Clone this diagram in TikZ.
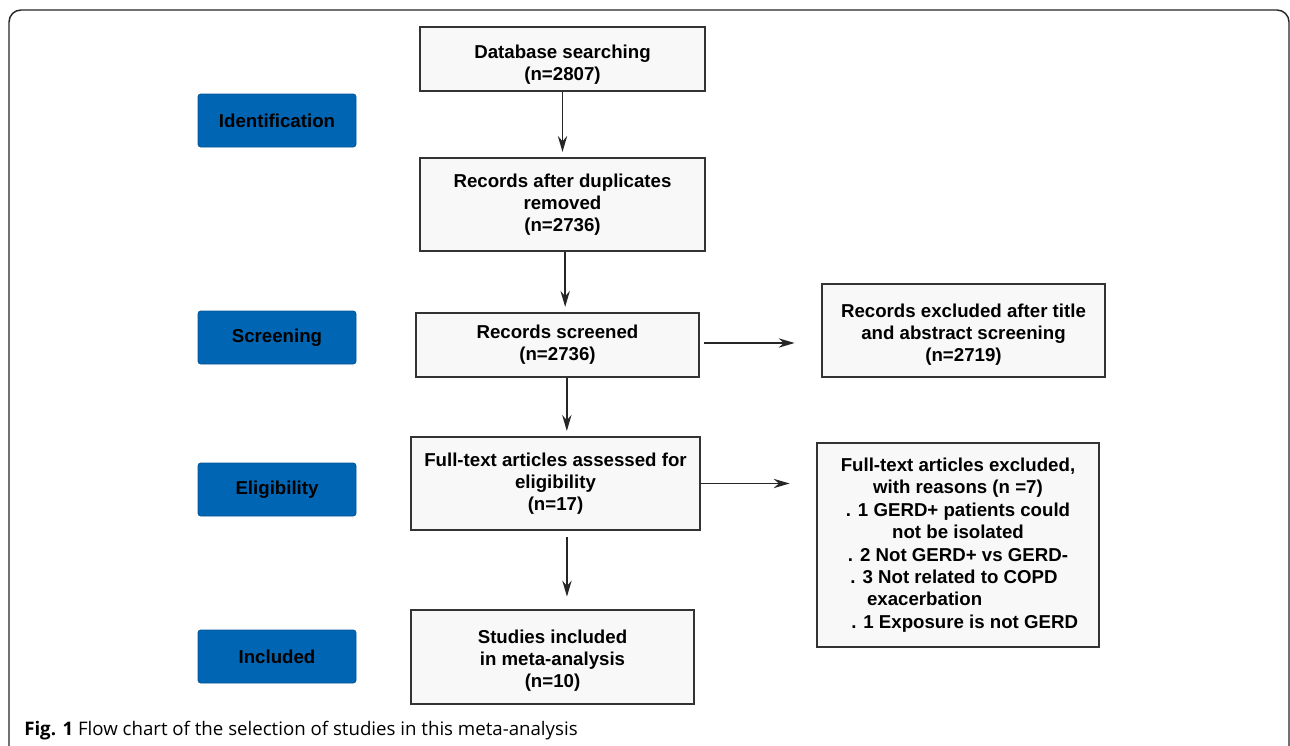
\documentclass[tikz,border=0pt]{standalone}
\usepackage{fontspec}
\setmainfont{Liberation Sans}
\newfontfamily\capfont{Open Sans}
\usetikzlibrary{arrows.meta}
\definecolor{stageblue}{HTML}{0065B2}
\definecolor{boxline}{HTML}{333333}
\definecolor{boxfill}{HTML}{F8F8F8}
\begin{document}
\begin{tikzpicture}[x=0.75pt,y=-0.75pt,
  flow/.style={draw=boxline, fill=boxfill, line width=1.1pt, align=center,
    font=\bfseries\fontsize{14pt}{16.5pt}\selectfont, inner sep=0pt},
  stage/.style={fill=stageblue, draw=stageblue!85!black, line width=0.5pt,
    rounded corners=2pt, minimum width=118.5pt, minimum height=39.75pt,
    font=\bfseries\fontsize{14pt}{16.5pt}\selectfont, inner sep=0pt},
  arr/.style={draw=black!85, line width=1.1pt,
    -{Stealth[length=12pt,width=7pt,inset=4pt]}}]
\useasboundingbox (0,0) rectangle (1290,746);
\clip (0,0) rectangle (1290,746);
\fill[white] (0,0) rectangle (1290,746);
\draw[line width=1.1pt, draw=black!85, rounded corners=9pt]
  (9,780) -- (9,10) -- (1289,10) -- (1289,780);

% stage labels
\node[stage] (ident) at (277,120.5) {Identification};
\node[stage] (screen) at (277,337.5) {Screening};
\node[stage] (elig) at (277,489.5) {Eligibility};
\node[stage] (inclstage) at (277,656.5) {Included};

% flow boxes
\node[flow, minimum width=213.75pt, minimum height=48pt] (db) at (562.5,59)
  {\rule{0pt}{18.5pt}Database searching\\(n=2807)};
\node[flow, minimum width=213.75pt, minimum height=69.75pt] (dup) at (562.5,204.5)
  {Records after duplicates\\removed\\(n=2736)};
\node[flow, minimum width=212.25pt, minimum height=48pt] (scr) at (557.5,345)
  {Records screened\\(n=2736)};
\node[flow, minimum width=212.25pt, minimum height=69.75pt] (excla) at (963.5,330.5)
  {\rule{0pt}{16pt}Records excluded after title\\and abstract screening\\(n=2719)};
\node[flow, minimum width=216.75pt, minimum height=69.75pt] (full) at (555.5,483.5)
  {Full-text articles assessed for\\eligibility\\(n=17)};
\node[flow, minimum width=211.5pt, minimum height=153pt,
  font=\bfseries\fontsize{14pt}{16.8pt}\selectfont] (exclb) at (958,545)
  {Full-text articles excluded,\\with reasons (n =7)\\. 1 GERD+ patients could\\not be isolated\\. 2 Not GERD+ vs GERD-\\. 3 Not related to COPD\rule{6pt}{0pt}\\exacerbation\rule{50pt}{0pt}\\\rule{10pt}{0pt}. 1 Exposure is not GERD};
\node[flow, minimum width=212.25pt, minimum height=70.5pt] (incl) at (552.5,657)
  {\rule{0pt}{16pt}Studies included\\in meta-analysis\\(n=10)};

% connectors
\draw[arr, shorten >=4pt] (db.south) -- (db.south |- dup.north);
\draw[arr, shorten >=4pt] ([xshift=2pt]dup.south) -- ([xshift=2pt]dup.south |- scr.north);
\draw[arr, shorten >=4pt] ([xshift=7pt]scr.south) -- ([xshift=7pt]scr.south |- full.north);
\draw[arr, shorten <=5pt, shorten >=9.5pt] ([xshift=8.6pt]full.south) -- ([xshift=8.6pt]full.south |- incl.north);
\draw[arr, shorten <=3pt, shorten >=20pt] ([yshift=1.5pt]scr.east) -- ([yshift=1.5pt]scr.east -| excla.west);
\draw[arr, shorten >=20pt] (full.east) -- (full.east -| exclb.west);

% caption
\node[anchor=base west, inner sep=0pt, font=\capfont\fontsize{14pt}{16pt}\selectfont] (cap) at (24,735)
  {\textbf{Fig. 1} Flow chart of the selection of studies in this meta-analysis};
\end{tikzpicture}
\end{document}
